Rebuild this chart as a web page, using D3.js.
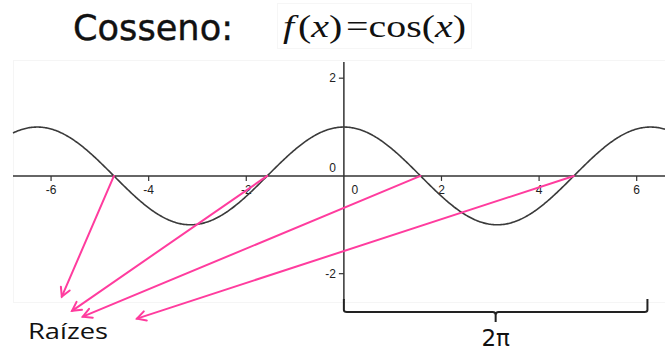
<!DOCTYPE html>
<html><head><meta charset="utf-8">
<script src="https://cdn.jsdelivr.net/npm/d3@7"></script>
<style>body{margin:0;background:#fff}svg{display:block}</style>
</head><body>
<svg id="c" width="665" height="352"></svg>
<script>
const xTicks = [-6, -4, -2, 0, 2, 4, 6];
const xTickLabels = ["-6", "-4", "-2", "0", "2", "4", "6"];
const yTicks = [2, 0, -2];
const yTickLabels = ["2", "0", "-2"];
const roots = [-4.712, -1.571, 1.571, 4.712];
const arrowEndX = [-5.78, -5.57, -5.35, -4.24];
const arrowEndY = [-2.47, -2.76, -2.88, -2.92];
const periodSpan = [0, 6.22];
const titleText = "Cosseno:";
const rootLabel = "Raízes";
const periodLabel = "2π";

const svg = d3.select("#c");
const x = d3.scaleLinear().domain([-6.78, 6.58]).range([13, 665]);
const y = d3.scaleLinear().domain([-2.6, 2.372]).range([303, 60]);

// faint plot frame
svg.append("rect").attr("x", 13.5).attr("y", 60.5).attr("width", 660).attr("height", 242)
  .attr("fill", "none").attr("stroke", "#f5f5f5");

// title
svg.append("text").attr("x", 73).attr("y", 40).text(titleText)
  .attr("font-family", "'DejaVu Sans', sans-serif").attr("font-size", 36)
  .attr("stroke", "#111").attr("stroke-width", 0.4)
  .attr("textLength", 160).attr("lengthAdjust", "spacingAndGlyphs").attr("fill", "#111");
// formula box
svg.append("rect").attr("x", 277.5).attr("y", 3.5).attr("width", 194).attr("height", 45)
  .attr("fill", "none").attr("stroke", "#f6f6f6");
const f = svg.append("text").attr("x", 283).attr("y", 37)
  .attr("font-family", "'Liberation Serif', 'Times New Roman', serif").attr("font-size", 31).attr("fill", "#111")
  .attr("textLength", 183).attr("lengthAdjust", "spacingAndGlyphs");
f.append("tspan").attr("font-style", "italic").text("f");
f.append("tspan").attr("dx", 3).text("(");
f.append("tspan").attr("font-style", "italic").text("x");
f.append("tspan").text(")");
f.append("tspan").attr("dx", 3).text("=");
f.append("tspan").text("cos(");
f.append("tspan").attr("font-style", "italic").text("x");
f.append("tspan").text(")");

// axes
const ax = svg.append("g").attr("stroke", "#333").attr("stroke-width", 1.5);
ax.append("line").attr("x1", 13).attr("x2", 665).attr("y1", y(0)).attr("y2", y(0));
ax.append("line").attr("x1", x(0)).attr("x2", x(0)).attr("y1", 62).attr("y2", 300);
ax.selectAll(".xt").data(xTicks.filter(d => d !== 0)).join("line")
  .attr("x1", d => x(d)).attr("x2", d => x(d)).attr("y1", y(0)).attr("y2", y(0) + 5).attr("stroke-width", 1.2);
ax.selectAll(".yt").data(yTicks.filter(d => d !== 0)).join("line")
  .attr("x1", x(0) - 5).attr("x2", x(0)).attr("y1", d => y(d)).attr("y2", d => y(d)).attr("stroke-width", 1.2);

const lab = svg.append("g").attr("font-family", "'Liberation Sans', Arial, sans-serif").attr("font-size", 12).attr("fill", "#222");
lab.selectAll(".xl").data(xTicks).join("text")
  .attr("x", d => d === 0 ? x(d) + 11 : x(d)).attr("y", y(0) + 18).attr("text-anchor", "middle")
  .text((d, i) => xTickLabels[i]);
lab.selectAll(".yl").data(yTicks).join("text")
  .attr("x", x(0) - 8).attr("y", d => d === 0 ? y(d) - 4 : y(d) + 4).attr("text-anchor", "end")
  .text((d, i) => yTickLabels[i]);

// cosine curve
const pts = d3.range(-6.78, 6.59, 0.02).map(v => [v, Math.cos(v)]);
svg.append("path").attr("d", d3.line().x(d => x(d[0])).y(d => y(d[1]))(pts))
  .attr("fill", "none").attr("stroke", "#3a3a3a").attr("stroke-width", 1.6);

// arrows
const pink = "#ff3c9e";
const ag = svg.append("g").attr("stroke", pink).attr("stroke-width", 2).attr("fill", "none").attr("stroke-linecap", "round");
roots.forEach((r, i) => {
  const x1 = x(r), y1 = y(0), x2 = x(arrowEndX[i]), y2 = y(arrowEndY[i]);
  ag.append("line").attr("x1", x1).attr("y1", y1).attr("x2", x2).attr("y2", y2);
  const ang = Math.atan2(y2 - y1, x2 - x1), L = 10, s = 0.5;
  ag.append("path").attr("d",
    `M${x2 - L * Math.cos(ang - s)},${y2 - L * Math.sin(ang - s)}L${x2},${y2}L${x2 - L * Math.cos(ang + s)},${y2 - L * Math.sin(ang + s)}`);
});
svg.append("text").attr("x", 28).attr("y", 339).text(rootLabel)
  .attr("font-family", "'Open Sans', sans-serif").attr("font-size", 22).attr("fill", "#111")
  .attr("textLength", 80).attr("lengthAdjust", "spacingAndGlyphs");

// bracket
const bx1 = x(periodSpan[0]), bx2 = x(periodSpan[1]), bm = (bx1 + bx2) / 2, by = 312;
svg.append("path").attr("d",
  `M${bx1},299 V${by - 2} Q${bx1},${by} ${bx1 + 3},${by} H${bm - 3} Q${bm},${by} ${bm},${by + 3} V${by + 10} M${bm},${by + 3} Q${bm},${by} ${bm + 3},${by} H${bx2 - 3} Q${bx2},${by} ${bx2},${by - 2} V299`)
  .attr("fill", "none").attr("stroke", "#222").attr("stroke-width", 2);
svg.append("text").attr("x", bm).attr("y", 346).attr("text-anchor", "middle").text(periodLabel)
  .attr("font-family", "'DejaVu Sans', sans-serif").attr("font-size", 23).attr("fill", "#111");
</script>
</body></html>
